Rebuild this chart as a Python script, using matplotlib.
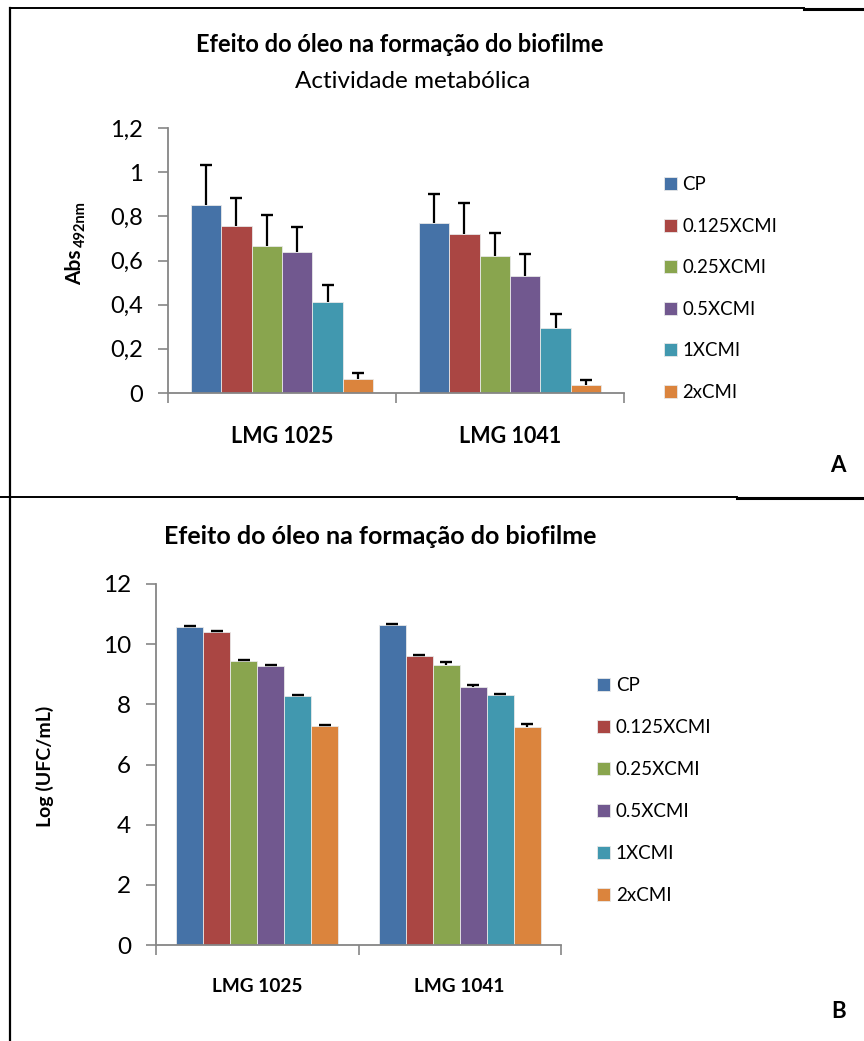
import matplotlib
matplotlib.use("Agg")
import matplotlib.pyplot as plt
from matplotlib.lines import Line2D

plt.rcParams['font.family'] = ['Lato', 'DejaVu Sans']

# data
strains = ["LMG 1025", "LMG 1041"]
series = ["CP", "0.125XCMI", "0.25XCMI", "0.5XCMI", "1XCMI", "2xCMI"]
colors = ["#4572A7", "#AA4643", "#89A54E", "#71588F", "#4198AF", "#DB843D"]

abs_vals = [[0.851, 0.771], [0.757, 0.719], [0.665, 0.621],
            [0.639, 0.532], [0.413, 0.296], [0.062, 0.036]]
abs_err = [[0.181, 0.129], [0.125, 0.141], [0.143, 0.103],
           [0.113, 0.097], [0.077, 0.061], [0.027, 0.021]]

log_vals = [[10.56, 10.64], [10.39, 9.61], [9.44, 9.32],
            [9.26, 8.57], [8.28, 8.30], [7.27, 7.23]]
log_err = [[0.03, 0.02], [0.05, 0.03], [0.03, 0.09],
           [0.05, 0.08], [0.03, 0.03], [0.04, 0.11]]

W, H = 864, 1041
fig = plt.figure(figsize=(W / 100, H / 100), dpi=100)


def fx(px):
    return px / W


def fy(py):
    return 1 - py / H


def draw_panel(ax, vals, errs, ymax, ystep, fmt, tick_fs, cat_fs):
    n = len(series)
    w = 0.8 / n
    for i, name in enumerate(series):
        xs = [j + (i - (n - 1) / 2) * w for j in range(len(strains))]
        ax.bar(xs, vals[i], width=w, color=colors[i], edgecolor="#e8e8e8",
               linewidth=0.6, label=name, zorder=2)
        # positive-only error bars with a cap on top only
        ax.errorbar(xs, vals[i], yerr=[[0] * len(strains), errs[i]], fmt="none",
                    ecolor="black", elinewidth=1.6, capsize=0, zorder=3)
        tops = [v + e for v, e in zip(vals[i], errs[i])]
        ax.plot(xs, tops, linestyle="none", marker="_", markersize=8.6,
                markeredgewidth=1.7, color="black", zorder=3)
    ax.set_xlim(-0.5, len(strains) - 0.5)
    ax.set_ylim(0, ymax)
    ticks = [k * ystep for k in range(int(round(ymax / ystep)) + 1)]
    ax.set_yticks(ticks)
    ax.set_yticklabels([fmt(t) for t in ticks], fontsize=tick_fs)
    ax.set_xticks(range(len(strains)))
    ax.set_xticklabels(strains, fontsize=cat_fs, fontweight="bold")
    ax.set_xticks([k - 0.5 for k in range(len(strains) + 1)], minor=True)
    ax.tick_params(axis="x", which="major", length=0, pad=24)
    ax.tick_params(axis="x", which="minor", length=7, width=1.2, color="#868686", direction="out")
    ax.tick_params(axis="y", length=7, width=1.2, color="#868686", direction="out", pad=11)
    for s in ["top", "right"]:
        ax.spines[s].set_visible(False)
    for s in ["left", "bottom"]:
        ax.spines[s].set_color("#868686")
        ax.spines[s].set_linewidth(1.3)


def fmt_comma(t):
    s = "%g" % round(t, 1)
    return s.replace(".", ",")


# panel A
axA = fig.add_axes([fx(168), fy(393), fx(624) - fx(168), fy(128) - fy(393)])
draw_panel(axA, abs_vals, abs_err, 1.2, 0.2, fmt_comma, 17, 15.5)
axA.legend(loc="upper left", bbox_to_anchor=(fx(664), fy(176)), bbox_transform=fig.transFigure,
           frameon=False, fontsize=13.4, handlelength=0.7, handleheight=0.7,
           handletextpad=0.3, labelspacing=1.32, borderpad=0, borderaxespad=0)

fig.text(fx(400), fy(45), "Efeito do óleo na formação do biofilme", fontsize=17,
         fontweight="bold", ha="center", va="center")
fig.text(fx(413), fy(81), "Actividade metabólica", fontsize=17.5, ha="center", va="center")
fig.text(fx(75), fy(285), "Abs", fontsize=15, fontweight="bold", rotation=90,
         ha="center", va="bottom")
fig.text(fx(81), fy(247), "492nm", fontsize=10.5, fontweight="bold", rotation=90,
         ha="center", va="bottom")
fig.text(fx(838), fy(466), "A", fontsize=16, fontweight="bold", ha="center", va="center")

# panel B
axB = fig.add_axes([fx(156), fy(945), fx(561) - fx(156), fy(584) - fy(945)])
draw_panel(axB, log_vals, log_err, 12, 2, lambda t: "%d" % t, 17.5, 13.7)
axB.legend(loc="upper left", bbox_to_anchor=(fx(597), fy(677)), bbox_transform=fig.transFigure,
           frameon=False, fontsize=13.5, handlelength=0.7, handleheight=0.7,
           handletextpad=0.3, labelspacing=1.33, borderpad=0, borderaxespad=0)

fig.text(fx(380), fy(537), "Efeito do óleo na formação do biofilme", fontsize=18,
         fontweight="bold", ha="center", va="center")
fig.text(fx(45), fy(766), "Log (UFC/mL)", fontsize=14, fontweight="bold", rotation=90,
         ha="center", va="center")
fig.text(fx(839), fy(1012), "B", fontsize=16, fontweight="bold", ha="center", va="center")

# frame lines around the panels
fig.add_artist(Line2D([fx(10), fx(804)], [fy(8), fy(8)], color="black", lw=1.4))
fig.add_artist(Line2D([fx(804), fx(864)], [fy(9), fy(9)], color="black", lw=2.2))
fig.add_artist(Line2D([fx(10), fx(10)], [fy(8), fy(1041)], color="black", lw=1.6))
fig.add_artist(Line2D([fx(0), fx(737)], [fy(497), fy(497)], color="black", lw=1.4))
fig.add_artist(Line2D([fx(737), fx(864)], [fy(498), fy(498)], color="black", lw=2.2))

fig.savefig("out.png", dpi=100)
